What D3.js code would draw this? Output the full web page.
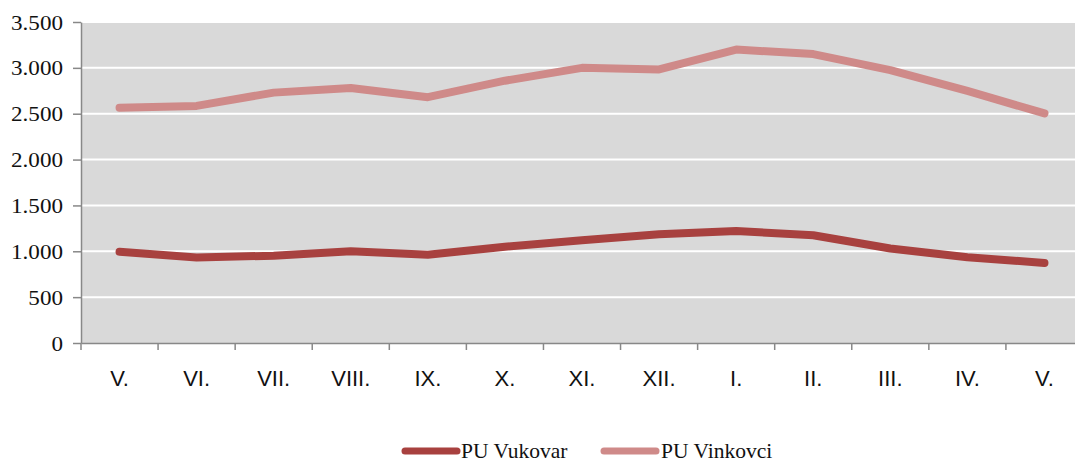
<!DOCTYPE html>
<html>
<head>
<meta charset="utf-8">
<script src="https://cdn.jsdelivr.net/npm/d3@7"></script>
<style>
  html, body { margin: 0; padding: 0; background: #fff; overflow: hidden; }
  svg { display: block; }
</style>
</head>
<body>
<svg id="chart" width="1075" height="463"></svg>
<script>
const categories = ["V.", "VI.", "VII.", "VIII.", "IX.", "X.", "XI.", "XII.", "I.", "II.", "III.", "IV.", "V."];
const vukovar  = [995, 932, 952, 1000, 962, 1050, 1120, 1185, 1220, 1175, 1030, 935, 873];
const vinkovci = [2565, 2585, 2730, 2780, 2680, 2860, 3000, 2983, 3200, 3150, 2975, 2748, 2503];
const seriesNames = ["PU Vukovar", "PU Vinkovci"];
const seriesColors = ["#A8413F", "#CF8A89"];
const yTicks = [0, 500, 1000, 1500, 2000, 2500, 3000, 3500];

const svg = d3.select("#chart");
const mLeft = 81, mRight = 1083, mTop = 22, mBottom = 343;

const x = d3.scaleBand().domain(d3.range(categories.length)).range([mLeft, mRight]).padding(0);
const y = d3.scaleLinear().domain([0, 3500]).range([mBottom, mTop]);

// plot background
svg.append("rect").attr("x", mLeft).attr("y", mTop)
  .attr("width", mRight - mLeft).attr("height", mBottom - mTop)
  .attr("fill", "#D9D9D9");

// gridlines
svg.append("g").selectAll("line").data(yTicks.filter(d => d > 0)).join("line")
  .attr("x1", mLeft).attr("x2", mRight)
  .attr("y1", d => y(d)).attr("y2", d => y(d))
  .attr("stroke", "#fff").attr("stroke-width", 2);

// y axis
const yAxis = d3.axisLeft(y).tickValues(yTicks).tickSize(8).tickSizeOuter(0)
  .tickFormat(d => d3.format(",")(d).replace(/,/g, "."));
const gy = svg.append("g").attr("transform", `translate(${mLeft},0)`).call(yAxis);
gy.select(".domain").attr("stroke", "#888").attr("stroke-width", 1.5);
gy.selectAll(".tick line").attr("stroke", "#888").attr("stroke-width", 1.5);
gy.selectAll(".tick text")
  .attr("x", 0).attr("dy", null).attr("dominant-baseline", "central")
  .attr("transform", "translate(-18,0) scale(1.1,1)")
  .attr("font-family", "'Liberation Serif', 'Times New Roman', serif")
  .attr("font-size", 21).attr("fill", "#111");

// x axis
const xAxis = d3.axisBottom(x).tickSize(0).tickFormat(i => categories[i]);
const gx = svg.append("g").attr("transform", `translate(0,${mBottom})`).call(xAxis);
gx.select(".domain").attr("stroke", "#888").attr("stroke-width", 1.5);
gx.selectAll(".tick text")
  .attr("y", 43).attr("dy", null)
  .attr("font-family", "'Liberation Sans', Arial, sans-serif")
  .attr("font-size", 22).attr("fill", "#111");
// boundary ticks
gx.append("g").selectAll("line").data(d3.range(categories.length + 1)).join("line")
  .attr("x1", i => mLeft + i * x.step()).attr("x2", i => mLeft + i * x.step())
  .attr("y1", 0).attr("y2", 7)
  .attr("stroke", "#888").attr("stroke-width", 1.5);

// lines
const line = d3.line().x((d, i) => x(i) + x.bandwidth() / 2).y(d => y(d));
[vukovar, vinkovci].forEach((data, k) => {
  svg.append("path").datum(data)
    .attr("d", line)
    .attr("fill", "none")
    .attr("stroke", seriesColors[k])
    .attr("stroke-width", 8)
    .attr("stroke-linecap", "round")
    .attr("stroke-linejoin", "round");
});

// legend
const legendItems = [{x: 402, tx: 461}, {x: 601, tx: 661}];
legendItems.forEach((it, k) => {
  svg.append("line")
    .attr("x1", it.x + 3).attr("x2", it.x + 55)
    .attr("y1", 451).attr("y2", 451)
    .attr("stroke", seriesColors[k]).attr("stroke-width", 7)
    .attr("stroke-linecap", "round");
  svg.append("text")
    .attr("transform", `translate(${it.tx},458) scale(1.05,1)`)
    .attr("font-family", "'Liberation Serif', 'Times New Roman', serif")
    .attr("font-size", 20.5).attr("fill", "#111")
    .text(seriesNames[k]);
});
</script>
</body>
</html>
